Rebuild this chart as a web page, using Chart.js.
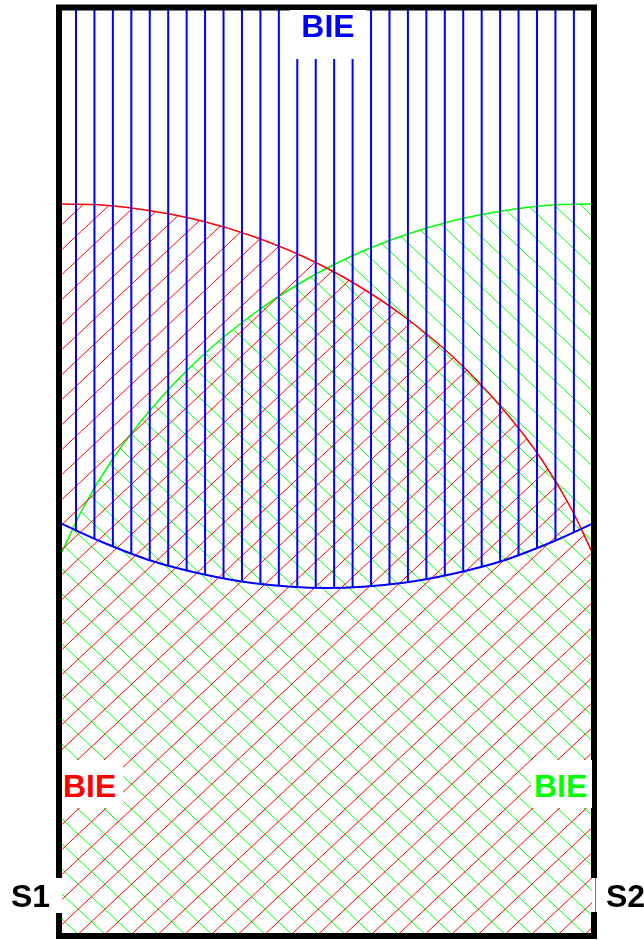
<!DOCTYPE html>
<html>
<head>
<meta charset="utf-8">
<title>BIE</title>
<script src="https://cdn.jsdelivr.net/npm/chart.js@4.4.0/dist/chart.umd.min.js"></script>
<style>
  html, body { margin: 0; padding: 0; background: #fff; }
  #wrap { position: relative; width: 644px; height: 940px; overflow: hidden; }
  #wrap canvas { position: absolute; left: 0; top: 0; }
  .lbl {
    position: absolute;
    font-family: "Liberation Sans", Arial, sans-serif;
    font-weight: bold;
    font-size: 32px;
    line-height: 32px;
    white-space: nowrap;
    box-sizing: border-box;
  }
  .box { background: #fff; }
</style>
</head>
<body>
<div id="wrap">
  <canvas id="diagram" width="644" height="940"></canvas>
  <div class="lbl box" style="left:290px;top:10px;width:76px;height:49px;text-align:center;color:#0000ff;">BIE</div>
  <div class="lbl box" style="left:62px;top:760px;width:61px;height:48px;padding:10px 0 0 1px;color:#ff0000;">BIE</div>
  <div class="lbl box" style="left:531px;top:760px;width:61px;height:48px;padding:10px 0 0 3px;color:#00ff00;">BIE</div>
  <div class="lbl" style="left:11px;top:880px;color:#000;">S1</div>
  <div class="lbl" style="left:606px;top:880px;color:#000;">S2</div>
</div>
<script>
// x = distance from the left side of the frame, y = height above the bottom
const blueX = [0, 40, 90, 140, 190, 265, 340, 390, 440, 490, 530];
const blueY = [409, 391, 372, 359, 350, 345, 350, 359, 372, 391, 409];

const redX = [0, 40, 90, 140, 190, 240, 290, 340, 390, 440, 480, 510, 530];
const redY = [729, 728, 722, 712, 697, 677, 651, 618, 577, 525, 473, 423, 381];

const greenX = [0, 20, 50, 90, 140, 190, 240, 290, 340, 390, 440, 490, 530];
const greenY = [381, 423, 473, 525, 577, 618, 651, 677, 697, 712, 722, 728, 729];

const canvas = document.getElementById('diagram');
const ctx = canvas.getContext('2d');

function toPoints(xs, ys) {
    return xs.map((x, i) => ({ x: x, y: ys[i] }));
}

// hatching is drawn once on a canvas the size of the page and used as a fill pattern
function hatch(color, width, drawLines) {
    const c = document.createElement('canvas');
    c.width = 644;
    c.height = 940;
    const g = c.getContext('2d');
    g.strokeStyle = color;
    g.lineWidth = width;
    g.beginPath();
    drawLines(g);
    g.stroke();
    return ctx.createPattern(c, 'no-repeat');
}

const slope = 0.937;

const bluePattern = hatch('#0000ff', 2, g => {
    for (let k = 0; k < 28; k++) {
        const x = 76 + 18.44 * k;
        g.moveTo(x, 0);
        g.lineTo(x, 940);
    }
});

const redPattern = hatch('#ff0000', 1, g => {
    for (let b = 7.5; b < 1600; b += 25) {
        g.moveTo(0, b);
        g.lineTo(644, b - slope * 644);
    }
});

const greenPattern = hatch('#00ff00', 1, g => {
    for (let b = 10.9 - 25 * 26; b < 960; b += 25) {
        g.moveTo(0, b);
        g.lineTo(644, b + slope * 644);
    }
});

const framePlugin = {
    id: 'frame',
    afterDraw(chart) {
        const a = chart.chartArea;
        const c = chart.ctx;
        const l = a.left - 3, r = a.right + 2, t = a.top - 2.5, b = a.bottom + 3;
        c.save();
        c.strokeStyle = '#000';
        c.lineWidth = 6;
        c.beginPath();
        c.moveTo(l, 878);
        c.lineTo(l, t);
        c.lineTo(r, t);
        c.lineTo(r, 878);
        c.moveTo(l, 913);
        c.lineTo(l, b);
        c.lineTo(r, b);
        c.lineTo(r, 912);
        c.stroke();
        c.strokeStyle = '#777';
        c.lineWidth = 1;
        c.beginPath();
        c.moveTo(r + 1.5, 878);
        c.lineTo(r + 1.5, 912);
        c.stroke();
        c.restore();
    }
};

new Chart(ctx, {
    type: 'line',
    data: {
        datasets: [{
            label: 'BIE blue',
            data: toPoints(blueX, blueY),
            borderColor: '#0000ff',
            borderWidth: 2,
            backgroundColor: bluePattern,
            fill: 'end',
            pointRadius: 0,
            cubicInterpolationMode: 'monotone'
        }, {
            label: 'BIE red',
            data: toPoints(redX, redY),
            borderColor: '#ff0000',
            borderWidth: 1.5,
            backgroundColor: redPattern,
            fill: 'start',
            pointRadius: 0,
            cubicInterpolationMode: 'monotone'
        }, {
            label: 'BIE green',
            data: toPoints(greenX, greenY),
            borderColor: '#00ff00',
            borderWidth: 1.5,
            backgroundColor: greenPattern,
            fill: 'start',
            pointRadius: 0,
            cubicInterpolationMode: 'monotone'
        }]
    },
    options: {
        responsive: false,
        animation: false,
        devicePixelRatio: 1,
        events: [],
        layout: {
            padding: { left: 62, right: 52, top: 10, bottom: 7 }
        },
        scales: {
            x: { type: 'linear', min: 0, max: 530, display: false },
            y: { min: 0, max: 923, display: false }
        },
        plugins: {
            legend: { display: false },
            tooltip: { enabled: false }
        }
    },
    plugins: [framePlugin]
});
</script>
</body>
</html>
